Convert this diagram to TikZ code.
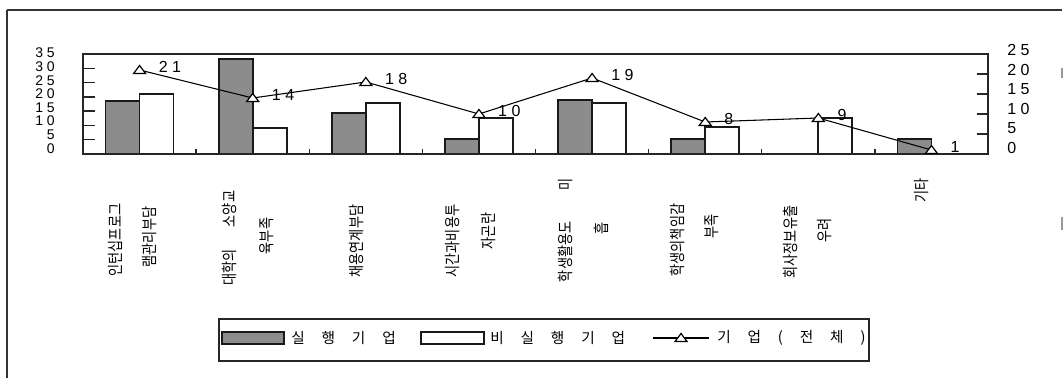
\documentclass[tikz,border=0pt]{standalone}
\usepackage{fontspec}
\setmainfont{Liberation Sans}
\newfontfamily\kofont{Noto Sans CJK KR}
\newcommand\keyfont{\kofont\fontsize{11}{12}\selectfont\spaceskip 1.15em\relax}
\newcommand\cond[1]{\scalebox{0.82}[1]{#1}}
\tikzset{
  frame/.style={draw=black!80,line width=1.2},
  axis/.style={draw=black!85,line width=1},
  bar/.style={draw=black!90,line width=1.4},
  darkbar/.style={bar,fill=black!45},
  whitebar/.style={bar,fill=white},
  tri/.style={draw=black,fill=white,line width=0.9},
  num/.style={font=\fontsize{12}{12}\selectfont,inner sep=0pt},
  leftnum/.style={font=\fontsize{10.5}{10.5}\selectfont,inner sep=0pt},
  cat/.style={font=\kofont\fontsize{12}{12}\selectfont,rotate=90,inner sep=0pt},
  key/.style={font=\keyfont,inner sep=0pt}
}
\begin{document}
\begin{tikzpicture}[x=0.75pt,y=-0.75pt]
        \useasboundingbox (0,0) rectangle (1064,378);
        % outer frame (scan)
        \draw[frame] (7,10) -- (1062,10);
        \draw[frame] (7,10) -- (7,378);
        \draw[frame,draw=black!40] (1062,68) -- (1062,78);
        \draw[frame,draw=black!40] (1062,217) -- (1062,230);
        % bars
        \foreach \i/\a in {1/18.6,2/33.2,3/14.4,4/5.2,5/18.9,6/5.2,8/5.2}
            \draw[darkbar] ({83+113.125*(\i-0.5)-34},154) rectangle ({83+113.125*(\i-0.5)},{154-2.857*\a});
        \foreach \i/\b in {1/21,2/9.1,3/17.9,4/12.6,5/17.9,6/9.5,7/12.6}
            \draw[whitebar] ({83+113.125*(\i-0.5)},154) rectangle ({83+113.125*(\i-0.5)+34},{154-2.857*\b});
        % plot area and ticks
        \draw[axis] (83,54) rectangle (988,154);
        \foreach \k in {1,...,6} \draw[axis] (83,{154-\k*100/7}) -- ++(12,0);
        \foreach \k in {1,...,4} \draw[axis] (988,{154-\k*20}) -- ++(-11,0);
        \foreach \k in {1,...,7} \draw[axis] ({83+113.125*\k},154) -- ++(0,-5);
        \foreach \k/\t in {0/3 5,1/3 0,2/2 5,3/2 0,4/1 5,5/1 0,6/5,7/0}
            \node[leftnum,anchor=east] (l\k) at (55,{53+13.6*\k}) {\t};
        \foreach \k/\t in {0/2 5,1/2 0,2/1 5,3/1 0,4/5,5/0}
            \node[num,anchor=west] (r\k) at (1007,{50+19.6*\k}) {\t};
        % whole-firm line
        \foreach \i/\v/\t in {1/21/2 1,2/14/1 4,3/18/1 8,4/10/1 0,5/19/1 9,6/8/8,7/9/9,8/1/1} {
            \coordinate (p\i) at ({83+113.125*(\i-0.5)},{154-4*\v});
            \node[num,anchor=west] (n\i) at ({83+113.125*(\i-0.5)+19},{151-4*\v}) {\t};
        }
        \draw[line width=0.8] (p1) -- (p2) -- (p3) -- (p4) -- (p5) -- (p6) -- (p7) -- (p8);
        \foreach \i in {1,...,8}
            \draw[tri] (p\i) +(-6,3.5) -- +(6,3.5) -- +(0,-4.5) -- cycle;
        % category labels
        \node[cat] (c1a) at (115,240) {\cond{인턴십프로그}};
        \node[cat] (c1b) at (150,237) {\cond{램관리부담}};
        \node[cat] (c2a) at (229,238) {\cond{대학의\hspace{20pt}소양교}};
        \node[cat] (c2b) at (267,236) {\cond{육부족}};
        \node[cat] (c3) at (357,241) {\cond{채용연계부담}};
        \node[cat] (c4a) at (453,241) {\cond{시간과비용투}};
        \node[cat] (c4b) at (489,231) {\cond{자곤란}};
        \node[cat] (c5a) at (565,230) {\cond{학생활용도\hspace{29pt}미}};
        \node[cat] (c5b) at (601,228) {\cond{흡}};
        \node[cat] (c6a) at (677,240) {\cond{학생의책임감}};
        \node[cat] (c6b) at (712,226) {\cond{부족}};
        \node[cat] (c7a) at (790,242) {\cond{회사정보유출}};
        \node[cat] (c7b) at (825,230) {\cond{우려}};
        \node[cat] (c8) at (921,190) {\cond{기타}};
        % legend
        \draw[axis] (219,319) rectangle (869,361);
        \draw[darkbar,line width=1] (222,332) rectangle (284,344);
        \node[key,anchor=west] (k1) at (291,338) {실 행 기 업};
        \draw[whitebar,line width=1] (421,332) rectangle (484,344);
        \node[key,anchor=west] (k2) at (490,338) {비 실 행 기 업};
        \coordinate (m1) at (653,338);
        \coordinate (m2) at (709,338);
        \coordinate (m0) at (681,338);
        \draw[line width=0.8] (m1) -- (m2);
        \draw[tri] (m0) +(-6,3.5) -- +(6,3.5) -- +(0,-4.5) -- cycle;
        \node[key,anchor=west] (k3) at (717,338) {기 업 ( 전 체 )};
    \end{tikzpicture}
\end{document}
